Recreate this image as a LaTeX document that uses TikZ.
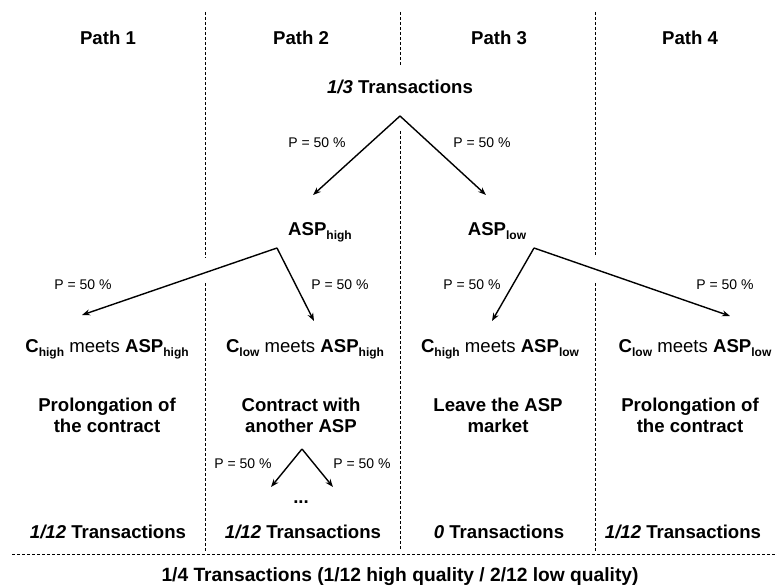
\documentclass[tikz,border=0pt]{standalone}
\usepackage{fontspec}
\setmainfont{Liberation Sans}
\usetikzlibrary{arrows.meta}
\newcommand{\bsub}[1]{\raisebox{-4.5bp}{\fontsize{12bp}{12bp}\selectfont\bfseries #1}}
\begin{document}
\begin{tikzpicture}[x=1bp,y=-1bp,
  lbl/.style={font=\fontsize{18.6bp}{21bp}\selectfont\bfseries, anchor=base, inner sep=0pt, align=center},
  prob/.style={font=\fontsize{14bp}{16bp}\selectfont, anchor=base, inner sep=0pt},
  arr/.style={-{Stealth[length=8bp,width=6bp]}, line width=1.4bp},
  sep/.style={dash pattern=on 3bp off 2bp, line width=1bp}]
\useasboundingbox (0,0) rectangle (776,586);
% separators
\draw[sep] (205,12) -- (205,258);
\draw[sep] (205,283) -- (205,551);
\draw[sep] (400,12) -- (400,67);
\draw[sep] (400,131) -- (400,551);
\draw[sep] (595,12) -- (595,255);
\draw[sep] (595,283) -- (595,551);
\draw[sep] (12,554) -- (776,554);
% headers
\node[lbl] (p1) at (108,45) {Path 1};
\node[lbl] (p2) at (301,45) {Path 2};
\node[lbl] (p3) at (499,45) {Path 3};
\node[lbl] (p4) at (690,45) {Path 4};
% root
\node[lbl] (root) at (400,94) {\textit{1/3} Transactions};
\coordinate (r0) at (400,116);
\coordinate (r1) at (313,195);
\coordinate (r2) at (486,195);
\draw[arr] (r0) -- (r1);
\draw[arr] (r0) -- (r2);
\node[prob] (pr1) at (317,148) {P = 50 \%};
\node[prob] (pr2) at (482,148) {P = 50 \%};
% ASP level
\node[lbl] (asph) at (320,235) {ASP\bsub{high}};
\node[lbl] (aspl) at (497,235) {ASP\bsub{low}};
\coordinate (ah) at (277,248);
\coordinate (al) at (534,248);
\coordinate (c1) at (82,315);
\coordinate (c2) at (314,321);
\coordinate (c3) at (492,321);
\coordinate (c4) at (730,316);
\draw[arr] (ah) -- (c1);
\draw[arr] (ah) -- (c2);
\draw[arr] (al) -- (c3);
\draw[arr] (al) -- (c4);
\node[prob] (pr3) at (83,289) {P = 50 \%};
\node[prob] (pr4) at (340,289) {P = 50 \%};
\node[prob] (pr5) at (472,289) {P = 50 \%};
\node[prob] (pr6) at (725,289) {P = 50 \%};
% meeting row
\node[lbl] (m1) at (107,352) {C\bsub{high} {\mdseries meets} ASP\bsub{high}};
\node[lbl] (m2) at (305,352) {C\bsub{low} {\mdseries meets} ASP\bsub{high}};
\node[lbl] (m3) at (500,352) {C\bsub{high} {\mdseries meets} ASP\bsub{low}};
\node[lbl] (m4) at (695,352) {C\bsub{low} {\mdseries meets} ASP\bsub{low}};
% outcomes
\node[lbl] (o1) at (107,432) {Prolongation of\\the contract};
\node[lbl] (o2) at (301,432) {Contract with\\another ASP};
\node[lbl] (o3) at (498,432) {Leave the ASP\\market};
\node[lbl] (o4) at (690,432) {Prolongation of\\the contract};
% small branch
\coordinate (s0) at (302,449);
\coordinate (s1) at (271,487);
\coordinate (s2) at (333,487);
\draw[arr] (s0) -- (s1);
\draw[arr] (s0) -- (s2);
\node[prob] (pr7) at (243,468) {P = 50 \%};
\node[prob] (pr8) at (362,468) {P = 50 \%};
\node[lbl] (dots) at (301,503) {...};
% transactions
\node[lbl] (t1) at (108,538) {\textit{1/12} Transactions};
\node[lbl] (t2) at (303,538) {\textit{1/12} Transactions};
\node[lbl] (t3) at (499,538) {\textit{0} Transactions};
\node[lbl] (t4) at (683,538) {\textit{1/12} Transactions};
\node[lbl,font=\fontsize{19.2bp}{21bp}\selectfont\bfseries] (tot) at (400,581) {1/4 Transactions (1/12 high quality / 2/12 low quality)};
\end{tikzpicture}
\end{document}
